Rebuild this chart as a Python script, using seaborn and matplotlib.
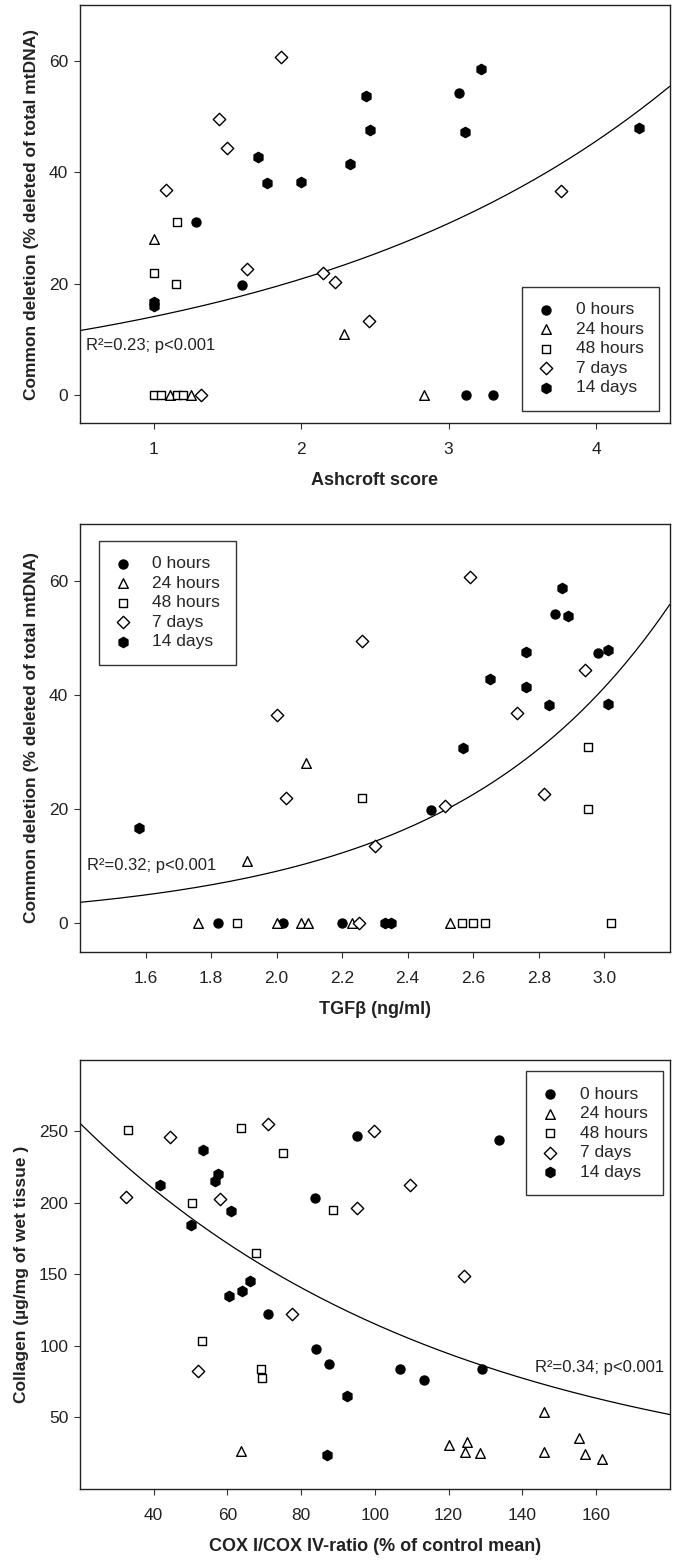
import numpy as np
import pandas as pd
import matplotlib
matplotlib.use("Agg")
import matplotlib.pyplot as plt
import seaborn as sns
from matplotlib import font_manager

# groups (legend order) and marker look
groups = ["0 hours", "24 hours", "48 hours", "7 days", "14 days"]
markers = {"0 hours": "o", "24 hours": "^", "48 hours": "s", "7 days": "D", "14 days": "h"}
filled = {"0 hours": True, "24 hours": False, "48 hours": False, "7 days": False, "14 days": True}
sizes = {"0 hours": 42, "24 hours": 48, "48 hours": 40, "7 days": 40, "14 days": 55}

# ---- panel 1: Ashcroft score vs common deletion
ash_x = {
    "0 hours": [1.29, 1.60, 3.07, 3.12, 3.30],
    "24 hours": [1.0, 2.29, 2.83, 1.11, 1.25],
    "48 hours": [1.16, 1.0, 1.15, 1.0, 1.05, 1.16, 1.20],
    "7 days": [1.86, 1.44, 1.50, 1.08, 1.63, 2.15, 2.23, 2.46, 3.76, 1.32],
    "14 days": [1.0, 1.0, 1.71, 1.77, 2.0, 2.33, 2.44, 2.47, 3.22, 3.11, 4.29],
}
ash_y = {
    "0 hours": [31.0, 19.8, 54.3, 0, 0],
    "24 hours": [28.0, 10.9, 0, 0, 0],
    "48 hours": [31.0, 22.0, 19.9, 0, 0, 0, 0],
    "7 days": [60.6, 49.5, 44.3, 36.9, 22.7, 21.9, 20.3, 13.4, 36.6, 0],
    "14 days": [16.8, 16.0, 42.8, 38.1, 38.3, 41.5, 53.7, 47.5, 58.6, 47.3, 47.9],
}

# ---- panel 2: TGF-beta vs common deletion
tgf_x = {
    "0 hours": [1.82, 2.02, 2.20, 2.47, 2.85, 2.98],
    "24 hours": [2.09, 1.91, 1.76, 2.00, 2.075, 2.095, 2.23, 2.53],
    "48 hours": [2.26, 2.95, 2.95, 1.88, 2.565, 2.60, 2.635, 3.02],
    "7 days": [2.59, 2.26, 2.00, 2.03, 2.30, 2.515, 2.735, 2.94, 2.815, 2.25],
    "14 days": [1.58, 2.33, 2.35, 2.57, 2.65, 2.76, 2.76, 2.83, 2.87, 2.89, 3.01, 3.01],
}
tgf_y = {
    "0 hours": [0, 0, 0, 19.8, 54.3, 47.4],
    "24 hours": [28.2, 11.0, 0, 0, 0, 0, 0, 0],
    "48 hours": [22.0, 31.0, 20.1, 0, 0, 0, 0, 0],
    "7 days": [60.7, 49.5, 36.5, 21.9, 13.5, 20.5, 36.9, 44.4, 22.7, 0],
    "14 days": [16.7, 0, 0, 30.8, 42.9, 47.6, 41.5, 38.2, 58.7, 53.8, 47.9, 38.4],
}

# ---- panel 3: COX I/COX IV ratio vs collagen
cox_x = {
    "0 hours": [95.1, 133.7, 83.8, 70.9, 83.9, 87.5, 106.8, 113.3, 129.0],
    "24 hours": [63.8, 120.0, 125.0, 124.5, 128.5, 146.0, 146.0, 155.5, 157.0, 161.5],
    "48 hours": [33.1, 63.7, 75.0, 50.4, 88.7, 67.8, 53.0, 69.0, 69.5],
    "7 days": [44.3, 70.9, 99.7, 32.5, 58.1, 95.1, 109.4, 124.1, 77.6, 51.9],
    "14 days": [53.5, 41.8, 56.5, 57.3, 61.0, 50.2, 66.1, 63.9, 60.4, 92.3, 87.0],
}
cox_y = {
    "0 hours": [246.7, 243.7, 203.3, 122.1, 98.1, 87.7, 84.2, 76.3, 84.2],
    "24 hours": [26.6, 30.8, 33.1, 25.9, 25.2, 53.8, 25.9, 35.6, 24.5, 21.0],
    "48 hours": [250.7, 252.1, 234.7, 199.8, 195.1, 164.9, 103.5, 84.2, 77.7],
    "7 days": [246.0, 254.9, 250.2, 204.4, 202.6, 196.5, 212.3, 148.8, 122.1, 82.3],
    "14 days": [236.7, 212.6, 215.3, 220.2, 194.2, 184.7, 145.1, 138.1, 134.7, 64.9, 23.8],
}

# exponential fit y = a*exp(b*x)
fit_a = [9.54, 0.447, 312.0]
fit_b = [0.391, 1.509, -0.00995]
fit_text = ["R²=0.23; p<0.001", "R²=0.32; p<0.001", "R²=0.34; p<0.001"]

sns.set_style("ticks")
names = {f.name for f in font_manager.fontManager.ttflist}
narrow = "Liberation Sans Narrow" if "Liberation Sans Narrow" in names else "Liberation Sans"
plt.rcParams["font.family"] = ["Liberation Sans", "DejaVu Sans"]
plt.rcParams["axes.linewidth"] = 1.0
plt.rcParams["xtick.major.size"] = 4.5
plt.rcParams["ytick.major.size"] = 4.5
plt.rcParams["xtick.color"] = "#333333"
plt.rcParams["ytick.color"] = "#333333"

fig = plt.figure(figsize=(6.85, 15.67), dpi=100)
ax1 = fig.add_axes([0.1168, 0.730, 0.861, 0.2668])
ax2 = fig.add_axes([0.1168, 0.3925, 0.861, 0.2731])
ax3 = fig.add_axes([0.1168, 0.0498, 0.861, 0.2738])

panels = [
    (ax1, ash_x, ash_y, (0.5, 4.5), (-5, 70), [1, 2, 3, 4], [0, 20, 40, 60],
     "Ashcroft score", "Common deletion (% deleted of total mtDNA)"),
    (ax2, tgf_x, tgf_y, (1.4, 3.2), (-5, 70), [1.6, 1.8, 2.0, 2.2, 2.4, 2.6, 2.8, 3.0], [0, 20, 40, 60],
     "TGFβ (ng/ml)", "Common deletion (% deleted of total mtDNA)"),
    (ax3, cox_x, cox_y, (20, 180), (0, 300), [40, 60, 80, 100, 120, 140, 160], [50, 100, 150, 200, 250],
     "COX I/COX IV-ratio (% of control mean)", "Collagen (µg/mg of wet tissue )"),
]

for i, (ax, xs, ys, xlim, ylim, xt, yt, xlab, ylab) in enumerate(panels):
    for g in groups:
        df = pd.DataFrame({"x": xs[g], "y": ys[g]})
        sns.scatterplot(data=df, x="x", y="y", ax=ax, marker=markers[g], s=sizes[g],
                        color="black" if filled[g] else "white", edgecolor="black",
                        linewidth=1.0, label=g, zorder=3, legend=False)
    xx = np.linspace(xlim[0], xlim[1], 200)
    ax.plot(xx, fit_a[i] * np.exp(fit_b[i] * xx), color="black", lw=0.9, zorder=2)
    ax.set_xlim(xlim)
    ax.set_ylim(ylim)
    ax.set_xticks(xt)
    ax.set_yticks(yt)
    if i == 1:
        ax.set_xticklabels([f"{v:.1f}" for v in xt])
    for lab in ax.get_xticklabels() + ax.get_yticklabels():
        lab.set_fontfamily(narrow)
        lab.set_fontsize(12.5)
        lab.set_color("#222222")
    ax.tick_params(axis="x", pad=9)
    ax.tick_params(axis="y", pad=4)
    ax.set_xlabel(xlab, fontsize=13, fontweight="bold", color="#222222", labelpad=11)
    ax.set_ylabel(ylab, fontsize=12.5, fontweight="bold", color="#222222", labelpad=7)
    for sp in ax.spines.values():
        sp.set_visible(True)
        sp.set_color("#222222")

ax1.text(0.54, 8.2, fit_text[0], fontsize=12, family=narrow, color="#222222")
ax2.text(1.42, 9.4, fit_text[1], fontsize=12, family=narrow, color="#222222")
ax3.text(178.5, 82, fit_text[2], fontsize=12, family=narrow, color="#222222", ha="right")

legend_pos = [("lower right", (0.982, 0.029)), ("upper left", (0.0315, 0.961)), ("upper right", (0.989, 0.974))]
for ax, (loc, anchor) in zip([ax1, ax2, ax3], legend_pos):
    leg = ax.legend(loc=loc, bbox_to_anchor=anchor, frameon=True, fancybox=False, borderaxespad=0,
                    prop={"family": narrow, "size": 12.5}, labelspacing=0.25, borderpad=0.9,
                    handlelength=1.0, handletextpad=1.2)
    leg.get_frame().set_edgecolor("black")
    leg.get_frame().set_linewidth(1.0)

fig.savefig("out.png", dpi=100)
